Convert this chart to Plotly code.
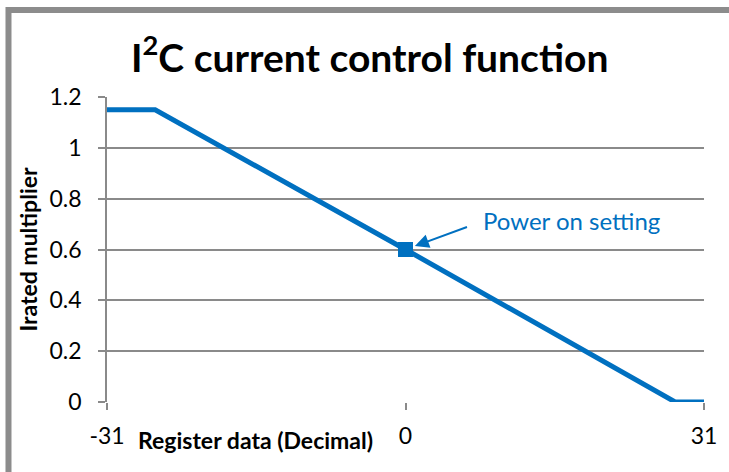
import plotly.graph_objects as go

# Data
register = [-31, -26, 0, 28, 31]
multiplier = [1.15, 1.15, 0.6, 0.0, 0.0]
power_on_x = [0]
power_on_y = [0.6]
x_ticks = [-31, 0, 31]
y_ticks = [0, 0.2, 0.4, 0.6, 0.8, 1.0, 1.2]
y_tick_text = ["0", "0.2", "0.4", "0.6", "0.8", "1", "1.2"]

BLUE = "#0070C0"
GRID = "#8a8a8a"
FONT = "Lato, 'Open Sans', sans-serif"

fig = go.Figure()
fig.add_trace(go.Scatter(x=register, y=multiplier, mode="lines",
                         line=dict(color=BLUE, width=5), hoverinfo="skip"))
fig.add_trace(go.Scatter(x=power_on_x, y=power_on_y, mode="markers",
                         marker=dict(symbol="square", size=15, color=BLUE),
                         cliponaxis=False, hoverinfo="skip"))

fig.update_layout(
    width=729, height=472,
    margin=dict(l=107, r=22, t=97, b=70),
    paper_bgcolor="white", plot_bgcolor="white",
    showlegend=False,
    font=dict(family=FONT, color="black"),
    title=dict(text="<b>I<sup>2</sup>C current control function</b>",
               x=(371 - 107) / 600, xanchor="center", xref="paper",
               y=1 - 58 / 472, yanchor="middle",
               font=dict(size=39, family=FONT)),
    xaxis=dict(range=[-31, 31], tickvals=x_ticks, ticktext=[str(v) for v in x_ticks],
               showgrid=False, zeroline=False, showline=False,
               ticks="outside", ticklen=7, tickwidth=1.5, tickcolor=GRID,
               ticklabelstandoff=6,
               tickfont=dict(size=23, family=FONT)),
    yaxis=dict(range=[0, 1.2], tickvals=y_ticks, ticktext=y_tick_text,
               showgrid=True, gridcolor=GRID, gridwidth=1.5,
               zeroline=False, showline=True, linecolor=GRID, linewidth=1.5,
               ticks="outside", ticklen=7, tickwidth=1.5, tickcolor=GRID,
               ticklabelstandoff=12,
               tickfont=dict(size=23, family=FONT),
               title=dict(text="<b>Irated multiplier</b>", standoff=5,
                          font=dict(size=23, family=FONT))),
)

# x axis title placed like the original (left of centre, level with tick labels)
fig.add_annotation(text="<b>Register data (Decimal)</b>", xref="paper", yref="paper",
                   x=(256 - 107) / 600, y=(402 - 440) / 305,
                   xanchor="center", yanchor="middle", showarrow=False,
                   font=dict(size=23, family=FONT))

# Power-on label
fig.add_annotation(text="Power on setting", xref="x", yref="y",
                   x=(574 - 407) / 300 * 31, y=(402 - 220) / 305 * 1.2,
                   xanchor="center", yanchor="middle",
                   showarrow=False, font=dict(size=24, color=BLUE, family=FONT))
fig.add_annotation(text="", xref="x", yref="y", x=0, y=0.6,
                   ax=63, ay=-23, showarrow=True, arrowhead=2, arrowsize=1.4,
                   arrowwidth=2, arrowcolor=BLUE, standoff=10)

# Outer frame (clipped on the right and bottom, like the source picture)
fig.add_shape(type="rect", xref="paper", yref="paper",
              x0=(8 - 107) / 600, x1=1.2, y0=-0.4, y1=(402 - 10) / 305,
              line=dict(color="#8c8c8c", width=6), layer="below")

fig.write_html("out.html", config={"displayModeBar": False},
               post_script="document.body.style.margin='0px';document.body.style.overflow='hidden';")
